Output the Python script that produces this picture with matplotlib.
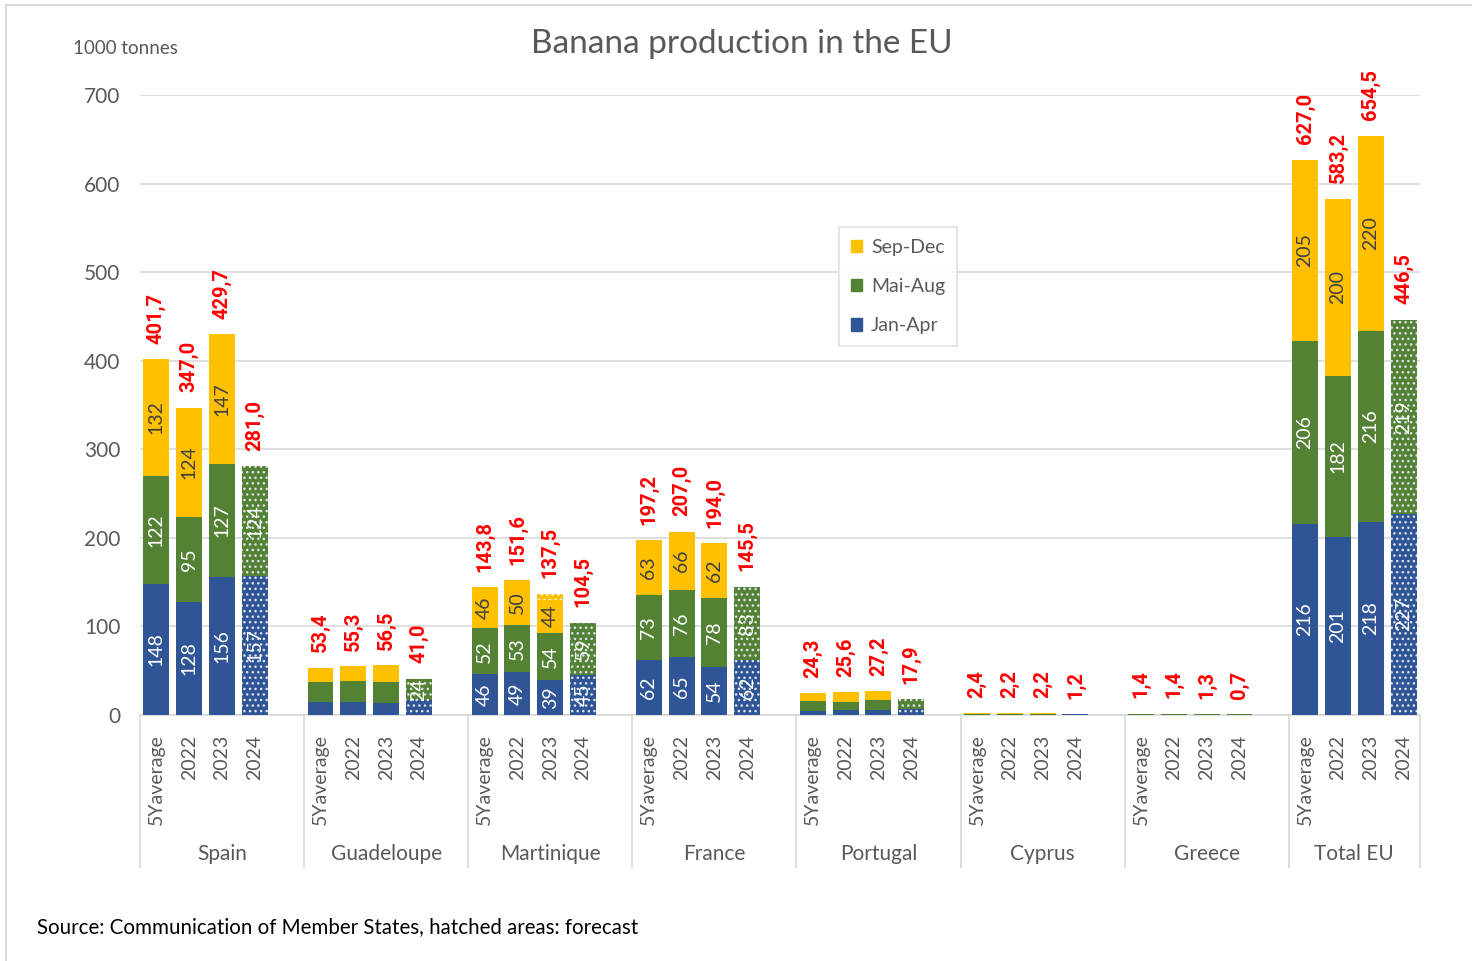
import matplotlib
matplotlib.use("Agg")
import matplotlib.pyplot as plt
from matplotlib.patches import Patch
from matplotlib.lines import Line2D
import matplotlib.transforms as mtransforms

plt.rcParams['font.family'] = ['Lato', 'DejaVu Sans']
plt.rcParams['hatch.linewidth'] = 1.0

# datos
groups = ["Spain", "Guadeloupe", "Martinique", "France", "Portugal", "Cyprus", "Greece", "Total EU"]
years = ["5Yaverage", "2022", "2023", "2024"]

jan_apr = [148, 128, 156, 157,
           15, 15, 13, 17,
           46, 49, 39, 45,
           62, 65, 54, 62,
           4.5, 6, 6, 6.5,
           0.5, 0.4, 0.4, 0.6,
           0.3, 0.3, 0.3, 0.35,
           216, 201, 218, 227]
mai_aug = [122, 95, 127, 124,
           22, 23.5, 23.8, 24,
           52, 53, 54, 59,
           73, 76, 78, 83,
           11, 9, 10.5, 11.4,
           0.5, 0.4, 0.4, 0.6,
           0.3, 0.3, 0.3, 0.35,
           206, 182, 216, 219]
sep_dec = [132, 124, 147, 0,
           16.4, 16.8, 19.7, 0,
           46, 50, 37, 0,
           63, 66, 62, 0,
           8.8, 10.6, 10.7, 0,
           1.4, 1.4, 1.4, 0,
           0.8, 0.8, 0.7, 0,
           205, 200, 220, 0]
# part of Sep-Dec that is still a forecast
sep_dec_fcst = [0, 0, 0, 0,
                0, 0, 0, 0,
                0, 0, 7, 0,
                0, 0, 0, 0,
                0, 0, 0, 0,
                0, 0, 0, 0,
                0, 0, 0, 0,
                0, 0, 0, 0]
totals = [401.7, 347.0, 429.7, 281.0,
          53.4, 55.3, 56.5, 41.0,
          143.8, 151.6, 137.5, 104.5,
          197.2, 207.0, 194.0, 145.5,
          24.3, 25.6, 27.2, 17.9,
          2.4, 2.2, 2.2, 1.2,
          1.4, 1.4, 1.3, 0.7,
          627.0, 583.2, 654.5, 446.5]

c_blue = "#2F5597"
c_green = "#548235"
c_yellow = "#FFC000"
c_grid = "#D9D9D9"
c_text = "#595959"

fig = plt.figure(figsize=(14.72, 9.61), dpi=100)
W, H = 1472, 961
ax = fig.add_axes([140 / W, 1 - 715 / H, 1280 / W, 620 / H])

# posiciones: 5 huecos por grupo (4 barras + 1 vacío)
xs = []
xlabels = []
for g in range(len(groups)):
    for b in range(len(years)):
        xs.append(g * 5 + b)
        xlabels.append(years[b])

width = 0.79
for i, x in enumerate(xs):
    fcst = (i % 4 == 3)
    hatch = "..." if fcst else None
    bottom = 0
    segs = [(jan_apr[i], c_blue, "white"), (mai_aug[i], c_green, "white"),
            (sep_dec[i], c_yellow, "#404040")]
    for val, col, tcol in segs:
        if val <= 0:
            continue
        ax.bar(x, val, width, bottom=bottom, color=col, hatch=hatch,
               edgecolor="#DDE3EE" if fcst else col, linewidth=0, zorder=3)
        shown = val + (sep_dec_fcst[i] if col == c_yellow else 0)
        if shown >= 24:
            ax.text(x, bottom + val / 2, "%d" % round(shown), rotation=90,
                    ha="center", va="center", color=tcol, fontsize=14, zorder=4)
        bottom += val
    if sep_dec_fcst[i] > 0:
        ax.bar(x, sep_dec_fcst[i], width, bottom=bottom, color=c_yellow, hatch="...",
               edgecolor="white", linewidth=0, zorder=3)
    ax.annotate(("%.1f" % totals[i]).replace(".", ","), (x, totals[i]),
                xytext=(0, 11), textcoords="offset points", rotation=90,
                ha="center", va="bottom", color="#FF0000", fontsize=14.5,
                fontweight="bold", family=["Roboto", "DejaVu Sans"], zorder=4)

ax.set_xlim(-0.5, 38.5)
ax.set_ylim(0, 700)
ax.set_yticks(range(0, 701, 100))
ax.tick_params(axis="y", length=0, pad=14, labelsize=15, labelcolor=c_text)
ax.set_xticks(xs)
ax.set_xticklabels(xlabels, rotation=90, fontsize=14, color=c_text)
ax.tick_params(axis="x", length=0, pad=14)
ax.grid(axis="y", color=c_grid, linewidth=1.2, zorder=0)
ax.set_axisbelow(True)
for s in ["top", "right", "left"]:
    ax.spines[s].set_visible(False)
ax.spines["bottom"].set_color(c_grid)
ax.spines["bottom"].set_linewidth(1.2)

# separadores y nombres de grupo
trans = mtransforms.blended_transform_factory(ax.transData, ax.transAxes)
bounds = [g * 5 - 0.5 for g in range(len(groups))] + [38.5]
for bx in bounds:
    ax.add_line(Line2D([bx, bx], [0, -0.245], transform=trans, color=c_grid,
                       linewidth=1.2, clip_on=False))
for g, name in enumerate(groups):
    ax.text((bounds[g] + bounds[g + 1]) / 2, -0.224, name, transform=trans,
            ha="center", va="center", fontsize=15, color=c_text)

fig.text(742 / W, 1 - 44 / H, "Banana production in the EU", ha="center", va="center",
         fontsize=24, color=c_text)
fig.text(73 / W, 1 - 48 / H, "1000 tonnes", ha="left", va="center", fontsize=13.5,
         color=c_text)
fig.text(37 / W, 1 - 927 / H, "Source: Communication of Member States, hatched areas: forecast",
         ha="left", va="center", fontsize=14.8, color="black")

handles = [Patch(color=c_yellow, label="Sep-Dec"), Patch(color=c_green, label="Mai-Aug"),
           Patch(color=c_blue, label="Jan-Apr")]
leg = fig.legend(handles=handles, loc="upper left", bbox_to_anchor=(839 / W, 1 - 227 / H),
                 borderaxespad=0, fontsize=14, frameon=True, fancybox=False,
                 handlelength=0.6, handleheight=0.6, handletextpad=0.45,
                 labelspacing=1.15, borderpad=0.6, labelcolor=c_text)
leg.get_frame().set_edgecolor(c_grid)
leg.get_frame().set_linewidth(1.2)

# borde del gráfico
fig.add_artist(Line2D([6 / W, 1], [1 - 5 / H, 1 - 5 / H], color=c_grid, linewidth=1.5))
fig.add_artist(Line2D([6 / W, 6 / W], [0, 1 - 5 / H], color=c_grid, linewidth=1.5))

fig.savefig("out.png", dpi=100)
